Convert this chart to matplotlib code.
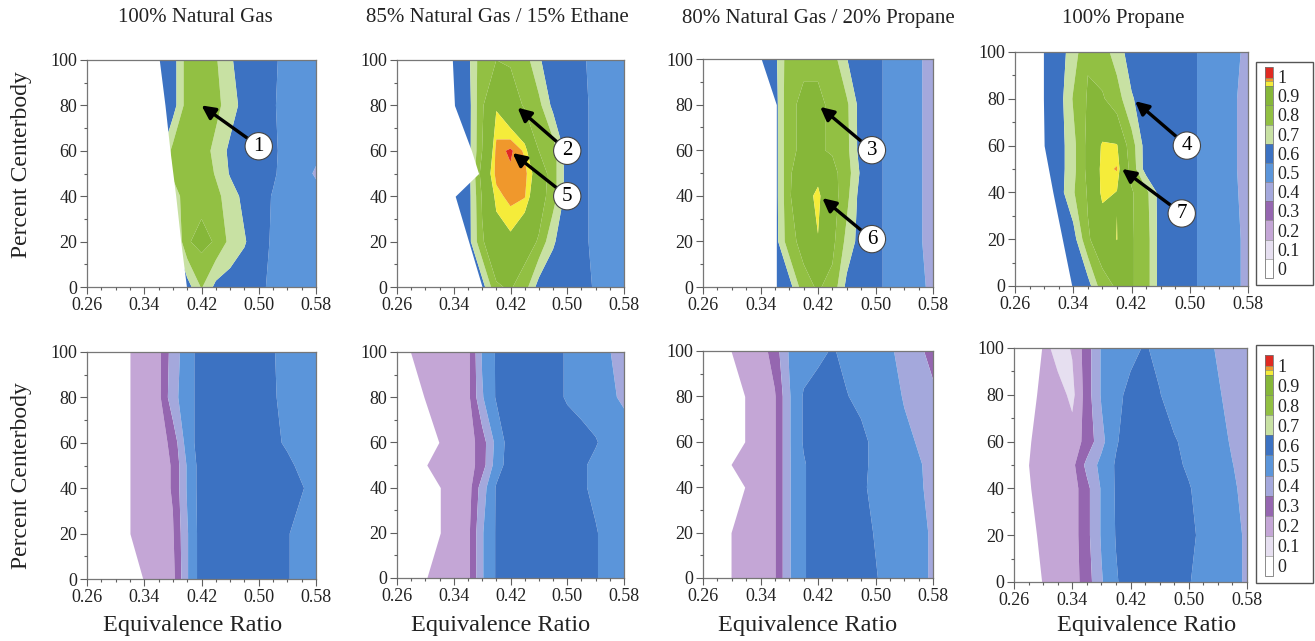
import numpy as np
import matplotlib.pyplot as plt
from matplotlib.patches import Rectangle

plt.rcParams['font.family'] = ['Liberation Serif', 'DejaVu Serif']

# grid: equivalence ratio (columns) x percent centerbody (rows)
phi = [0.26, 0.28, 0.30, 0.32, 0.34, 0.36, 0.38, 0.40, 0.42,
       0.44, 0.46, 0.48, 0.50, 0.52, 0.54, 0.56, 0.58]
centerbody = [0, 20, 40, 50, 60, 80, 100]

titles = ['100% Natural Gas', '85% Natural Gas / 15% Ethane',
          '80% Natural Gas / 20% Propane', '100% Propane']

# top row, rows follow centerbody (0 -> 100)
top_ng = [
    [.6, .6, .6, .6, .6, .6, .6, .6, .76, .62, .6, .58, .56, .54, .52, .5, .48],
    [.6, .6, .6, .6, .6, .6, .6, .84, .88, .84, .72, .66, .58, .54, .52, .5, .48],
    [.6, .6, .6, .6, .6, .6, .72, .78, .82, .78, .7, .62, .58, .545, .52, .5, .48],
    [.6, .6, .6, .6, .6, .6, .76, .82, .82, .74, .64, .6, .58, .56, .52, .48, .44],
    [.6, .6, .6, .6, .6, .6, .78, .82, .8, .72, .627, .6, .58, .56, .53, .5, .47],
    [.6, .6, .6, .6, .6, .6, .6, .8, .82, .78, .7, .61, .58, .555, .53, .5, .48],
    [.6, .6, .6, .6, .6, .6, .6, .8, .82, .76, .67, .57, .57, .56, .53, .5, .48],
]
top_ng_ethane = [
    [.6, .6, .6, .6, .6, .6, .6, .84, .86, .8, .6, .6, .6, .58, .54, .52, .5],
    [.6, .6, .6, .6, .6, .6, .84, .92, .94, .9, .84, .66, .6, .57, .53, .52, .5],
    [.6, .6, .6, .6, .6, .6, .86, .965, .985, .978, .9, .8, .6, .57, .53, .52, .5],
    [.6, .6, .6, .6, .6, .6, .9, .985, .99, .985, .92, .8, .6, .57, .53, .52, .5],
    [.6, .6, .6, .6, .6, .6, .85, .985, 1.0, .97, .85, .8, .6, .57, .53, .52, .5],
    [.6, .6, .6, .6, .6, .6, .84, .945, .9, .84, .78, .62, .6, .57, .53, .52, .5],
    [.6, .6, .6, .6, .6, .62, .82, .85, .84, .8, .66, .6, .58, .56, .53, .52, .5],
]
top_ng_propane = [
    [.6, .6, .6, .6, .6, .6, .6, .82, .86, .82, .62, .6, .56, .54, .51, .46, .44],
    [.6, .6, .6, .6, .6, .6, .82, .88, .948, .88, .72, .6, .56, .54, .51, .46, .42],
    [.6, .6, .6, .6, .6, .6, .84, .93, .96, .9, .78, .6, .56, .54, .51, .46, .42],
    [.6, .6, .6, .6, .6, .6, .84, .9, .935, .88, .8, .63, .56, .54, .51, .46, .42],
    [.6, .6, .6, .6, .6, .6, .84, .86, .86, .84, .78, .6, .56, .54, .51, .46, .42],
    [.6, .6, .6, .6, .6, .6, .84, .86, .86, .84, .77, .6, .56, .54, .51, .46, .42],
    [.6, .6, .6, .6, .6, .62, .82, .84, .84, .8, .652, .6, .56, .54, .51, .46, .42],
]
top_propane = [
    [.6, .6, .6, .6, .6, .6, .82, .86, .86, .8, .6, .57, .56, .54, .52, .47, .43],
    [.6, .6, .6, .6, .6, .84, .9, .952, .86, .8, .6, .57, .56, .54, .52, .47, .43],
    [.6, .6, .6, .6, .74, .86, .965, .948, .86, .78, .6, .57, .56, .54, .52, .46, .43],
    [.6, .6, .6, .6, .72, .88, .965, .978, .82, .6, .58, .57, .56, .54, .52, .46, .42],
    [.6, .6, .6, .6, .72, .88, .958, .955, .8, .6, .58, .57, .56, .54, .52, .46, .42],
    [.6, .6, .6, .6, .76, .86, .86, .8, .66, .6, .58, .57, .56, .54, .52, .46, .42],
    [.6, .6, .6, .6, .7, .84, .8, .7, .6, .6, .58, .58, .56, .54, .52, .46, .44],
]

# bottom row
bot_ng = [
    [.2, .2, .2, .2, .2, .2, .22, .44, .6, .62, .62, .62, .6, .6, .56, .5, .5],
    [.2, .2, .2, .2, .2, .2, .24, .44, .6, .62, .62, .62, .6, .6, .56, .5, .5],
    [.2, .2, .2, .2, .2, .2, .26, .46, .6, .62, .62, .62, .6, .6, .58, .56, .5],
    [.2, .2, .2, .2, .2, .2, .26, .46, .6, .62, .62, .62, .6, .6, .58, .52, .5],
    [.2, .2, .2, .2, .2, .2, .28, .5, .6, .62, .62, .62, .6, .58, .53, .5, .5],
    [.2, .2, .2, .2, .2, .22, .42, .5, .6, .62, .62, .6, .58, .56, .52, .5, .5],
    [.2, .2, .2, .2, .2, .22, .4, .5, .6, .62, .62, .6, .58, .555, .52, .5, .5],
]
bot_ng_ethane = [
    [.2, .2, .2, .2, .2, .22, .44, .56, .6, .62, .62, .62, .6, .6, .56, .5, .48],
    [.2, .2, .2, .2, .2, .22, .44, .56, .6, .62, .62, .62, .6, .6, .56, .5, .48],
    [.2, .2, .2, .2, .2, .2, .4, .56, .6, .62, .62, .62, .6, .57, .52, .5, .48],
    [.2, .2, .2, .2, .2, .2, .3, .5, .6, .62, .62, .62, .6, .57, .52, .5, .48],
    [.2, .2, .2, .2, .2, .2, .3, .48, .6, .62, .62, .62, .6, .6, .56, .5, .48],
    [.2, .2, .2, .2, .2, .22, .44, .56, .6, .62, .6, .58, .54, .5, .48, .46, .44],
    [.2, .2, .2, .2, .2, .22, .46, .56, .6, .62, .6, .58, .54, .5, .48, .452, .42],
]
bot_ng_propane = [
    [.2, .2, .2, .2, .2, .24, .44, .54, .6, .6, .6, .6, .56, .5, .48, .47, .44],
    [.2, .2, .2, .2, .2, .24, .44, .54, .6, .6, .6, .6, .54, .5, .48, .47, .44],
    [.2, .2, .2, .2, .2, .24, .44, .54, .6, .6, .6, .57, .52, .5, .48, .46, .43],
    [.2, .2, .2, .2, .2, .24, .44, .54, .6, .6, .6, .58, .52, .5, .48, .46, .42],
    [.2, .2, .2, .2, .2, .24, .44, .56, .6, .6, .6, .58, .52, .5, .48, .44, .42],
    [.2, .2, .2, .2, .2, .24, .44, .56, .6, .6, .555, .52, .5, .5, .44, .4, .38],
    [.2, .2, .2, .2, .2, .3, .46, .5, .52, .56, .52, .5, .5, .47, .4, .38, .3],
]
bot_propane = [
    [.2, .2, .2, .2, .2, .3, .44, .54, .6, .62, .62, .6, .555, .52, .5, .47, .44],
    [.2, .2, .2, .2, .2, .32, .46, .555, .6, .62, .62, .62, .58, .52, .5, .47, .44],
    [.2, .2, .2, .2, .2, .32, .46, .56, .62, .63, .62, .6, .56, .5, .48, .46, .43],
    [.2, .2, .2, .2, .22, .38, .48, .56, .62, .63, .62, .58, .53, .5, .48, .452, .42],
    [.2, .2, .2, .2, .2, .28, .42, .54, .6, .62, .62, .56, .52, .5, .48, .44, .42],
    [.2, .2, .2, .2, .12, .3, .46, .52, .58, .6, .555, .5, .5, .48, .46, .42, .4],
    [.2, .2, .2, .1, .16, .3, .46, .5, .52, .56, .52, .5, .5, .48, .44, .4, .4],
]

# lean limit (no data to the left), per centerbody row
lbo_top = [
    [0.399, 0.391, 0.384, 0.380, 0.376, 0.369, 0.361],
    [0.380, 0.361, 0.342, 0.375, 0.365, 0.341, 0.338],
    [0.362, 0.362, 0.362, 0.362, 0.362, 0.362, 0.341],
    [0.338, 0.325, 0.312, 0.306, 0.300, 0.299, 0.299],
]
lbo_bot = [
    [0.338, 0.320, 0.320, 0.320, 0.320, 0.320, 0.320],
    [0.302, 0.321, 0.321, 0.302, 0.319, 0.298, 0.279],
    [0.299, 0.299, 0.318, 0.299, 0.318, 0.318, 0.299],
    [0.298, 0.291, 0.283, 0.280, 0.283, 0.291, 0.298],
]

# numbered callouts on the top row: (panel, label, circle xy, arrow tip xy)
callouts = [
    (0, '1', (0.500, 62), (0.420, 80)),
    (1, '2', (0.500, 60), (0.430, 79)),
    (1, '5', (0.500, 40), (0.423, 59)),
    (2, '3', (0.495, 60), (0.423, 79)),
    (2, '6', (0.495, 21), (0.426, 39)),
    (3, '4', (0.496, 60), (0.425, 79)),
    (3, '7', (0.489, 31), (0.407, 50)),
]

levels = [-0.05, 0.05, 0.15, 0.25, 0.35, 0.45, 0.55, 0.65, 0.75, 0.85,
          0.95, 0.975, 0.995, 1.05]
band_colors = ['#ffffff', '#e6dff0', '#c4a6d6', '#9566b0', '#a4a8dc',
               '#5b95da', '#3c72c2', '#c8e1a3', '#92c043', '#86b739',
               '#f5ec3a', '#f0982c', '#e02a22']

W, H = 1315, 641
fig = plt.figure(figsize=(W / 100, H / 100), dpi=100)


def px_axes(l, r, t, b):
    return fig.add_axes([l / W, 1 - b / H, (r - l) / W, (b - t) / H])


top_boxes = [(87, 316, 60, 287), (397, 624, 60, 287), (703, 933, 59, 287), (1015, 1248, 52, 286)]
bot_boxes = [(87, 316, 352, 579), (397, 624, 352, 578), (703, 933, 351, 578), (1014, 1247, 348, 582)]
top_data = [top_ng, top_ng_ethane, top_ng_propane, top_propane]
bot_data = [bot_ng, bot_ng_ethane, bot_ng_propane, bot_propane]

tick_col = '#606060'
axes_top, axes_bot = [], []
for row, (boxes, data, lbos) in enumerate([(top_boxes, top_data, lbo_top),
                                           (bot_boxes, bot_data, lbo_bot)]):
    for i in range(4):
        ax = px_axes(*boxes[i])
        cs = ax.contourf(phi, centerbody, np.array(data[i]), levels=levels,
                         colors=band_colors, antialiased=True)
        ax.fill_betweenx(centerbody, 0.26, lbos[i], color='white', lw=0, zorder=1.5)
        ax.set_xlim(0.26, 0.58)
        ax.set_ylim(0, 100)
        ax.set_xticks([0.26, 0.34, 0.42, 0.50, 0.58])
        ax.set_xticklabels(['0.26', '0.34', '0.42', '0.50', '0.58'])
        ax.set_xticks(np.arange(0.28, 0.58, 0.02), minor=True)
        ax.set_yticks([0, 20, 40, 60, 80, 100])
        ax.set_yticks([10, 30, 50, 70, 90], minor=True)
        ax.tick_params(which='both', direction='out', color=tick_col, width=0.8,
                       labelsize=13, pad=2, labelcolor='#222222')
        ax.tick_params(which='major', length=5)
        ax.tick_params(which='minor', length=2.5)
        for s in ax.spines.values():
            s.set_color('#777777')
            s.set_linewidth(0.9)
        ax.set_axisbelow(False)
        if row == 0:
            axes_top.append((ax, cs))
        else:
            axes_bot.append((ax, cs))

# column titles
for xc, t in zip([195, 497, 818, 1123], titles):
    fig.text(xc / W, 1 - 18 / H, t, ha='center', va='center', fontsize=15, color='#222222')

# axis labels
for xc in [193, 501, 808, 1147]:
    fig.text(xc / W, 1 - 626 / H, 'Equivalence Ratio', ha='center', va='center',
             fontsize=17.5, color='#222222')
for yc in [165, 476]:
    fig.text(22 / W, 1 - yc / H, 'Percent Centerbody', ha='center', va='center',
             rotation=90, fontsize=17, color='#222222')

# callouts
for idx, lab, circ, tip in callouts:
    ax = axes_top[idx][0]
    ax.annotate(lab, xy=tip, xytext=circ, ha='center', va='center', fontsize=15,
                bbox=dict(boxstyle='circle,pad=0.2', fc='white', ec='#444444', lw=0.8),
                arrowprops=dict(arrowstyle='-|>', color='black', lw=2.4,
                                mutation_scale=20, shrinkA=0, shrinkB=0),
                zorder=5)

# colour keys
for (bx0, by0, bx1, by1), (cx0, cy0, cx1, cy1), cs in [
        ((1256, 62, 1313, 285), (1265, 67, 1273, 278), axes_top[3][1]),
        ((1256, 345, 1313, 583), (1265, 355, 1273, 576), axes_bot[3][1])]:
    fig.add_artist(Rectangle((bx0 / W, 1 - by1 / H), (bx1 - bx0) / W, (by1 - by0) / H,
                             transform=fig.transFigure, fill=False, ec='#555555', lw=1))
    cax = px_axes(cx0, cx1, cy0, cy1)
    cb = fig.colorbar(cs, cax=cax, spacing='proportional', drawedges=True,
                      ticks=[0, 0.1, 0.2, 0.3, 0.4, 0.5, 0.6, 0.7, 0.8, 0.9, 1.0])
    cb.ax.set_yticklabels(['0', '0.1', '0.2', '0.3', '0.4', '0.5', '0.6', '0.7', '0.8', '0.9', '1'])
    cb.ax.tick_params(length=0, labelsize=13, pad=3, labelcolor='#222222')
    cb.outline.set_edgecolor('#777777')
    cb.outline.set_linewidth(0.6)
    cb.dividers.set_color('#777777')
    cb.dividers.set_linewidth(0.4)

fig.savefig('out.png', dpi=100)
